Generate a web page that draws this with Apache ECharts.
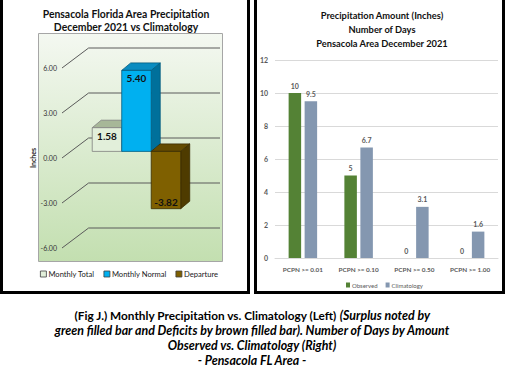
<!DOCTYPE html>
<html><head><meta charset="utf-8">
<script src="https://cdn.jsdelivr.net/npm/echarts@6/dist/echarts.min.js"></script>
<style>html,body{margin:0;padding:0;background:#fff}#c{width:506px;height:372px}</style>
</head><body><div id="c"></div>
<script>
// ---------- data ----------
const leftSeriesNames = ['Monthly Total', 'Monthly Normal', 'Departure'];
const leftValues = [1.58, 5.40, -3.82];
const leftTicks = [-6, -3, 0, 3, 6];
const rightCategories = ['PCPN >= 0.01', 'PCPN >= 0.10', 'PCPN >= 0.50', 'PCPN >= 1.00'];
const rightSeriesNames = ['Observed', 'Climatology'];
const observedDays = [10, 5, 0, 0];
const climatologyDays = [9.5, 6.7, 3.1, 1.6];
const leftTitle = ['Pensacola Florida Area Precipitation', 'December 2021 vs Climatology'];
const rightTitle = ['Precipitation Amount (Inches)', 'Number of Days', 'Pensacola Area December 2021'];

// ---------- style ----------
const FONT = 'Lato';
const leftFaces = [
  {front: '#e2efda', top: '#a7b798', side: '#b9c9aa', border: '#7f7f7f'},
  {front: '#00b0f0', top: '#0a8cc0', side: '#00709b', border: '#005a7d'},
  {front: '#7f6000', top: '#634b00', side: '#4e3b00', border: '#3a2c00'}
];
const rightColors = ['#548235', '#8497b0'];
const DEPTH_X = 26.6, DEPTH_Y = -20;
const BAR_FRONT = 0.33;
const BAR_DX = 9, BAR_DY = -7.5;
const BAR_W = 29.5;

function renderGridLine(params, api) {
  const v = api.value(1);
  const cs = params.coordSys;
  const y = api.coord([0, v])[1];
  const x0 = cs.x, x1 = cs.x + cs.width;
  return {
    type: 'polyline', silent: true,
    shape: {points: [[x0, y], [x0 + DEPTH_X, y + DEPTH_Y], [x1 + DEPTH_X, y + DEPTH_Y]]},
    style: {stroke: '#5a5a5a', lineWidth: 1, fill: null}
  };
}

function makeBarRender(k) {
  return function (params, api) {
    const v = api.value(1);
    const base = api.coord([0, 0]);
    const tip = api.coord([0, v]);
    const cx = base[0] + DEPTH_X * BAR_FRONT;
    const oy = DEPTH_Y * BAR_FRONT;
    const xl = cx + (k - 1.5) * BAR_W, xr = xl + BAR_W;
    const y0 = base[1] + oy, y1 = tip[1] + oy;
    const yt = Math.min(y0, y1), yb = Math.max(y0, y1);
    const c = leftFaces[k];
    return {
      type: 'group', children: [
        {type: 'polygon', shape: {points: [[xr, yt], [xr + BAR_DX, yt + BAR_DY], [xr + BAR_DX, yb + BAR_DY], [xr, yb]]},
          style: {fill: c.side, stroke: c.border, lineWidth: 0.8}},
        {type: 'polygon', shape: {points: [[xl, yt], [xl + BAR_DX, yt + BAR_DY], [xr + BAR_DX, yt + BAR_DY], [xr, yt]]},
          style: {fill: c.top, stroke: c.border, lineWidth: 0.8}},
        {type: 'rect', shape: {x: xl, y: yt, width: BAR_W, height: yb - yt},
          style: {fill: c.front, stroke: c.border, lineWidth: 0.8}},
        {type: 'text', style: {text: v.toFixed(2), x: (xl + xr) / 2, y: v >= 0 ? yt + 8 : yb - 7,
          align: 'center', verticalAlign: 'middle', font: 'bold 10px ' + FONT, fill: '#111'}}
      ]
    };
  };
}

const chart = echarts.init(document.getElementById('c'), null, {renderer: 'svg', width: 506, height: 372});

const leftBarSeries = leftSeriesNames.map((name, k) => ({
  type: 'custom', name: name, xAxisIndex: 0, yAxisIndex: 0, z: 5,
  itemStyle: {color: leftFaces[k].front, borderColor: leftFaces[k].border},
  encode: {x: 0, y: 1},
  data: [[0, leftValues[k]]],
  renderItem: makeBarRender(k)
}));

const option = {
  animation: false,
  textStyle: {fontFamily: FONT},
  grid: [
    {left: 62, top: 68, width: 131.4, height: 180},
    {left: 275, top: 60, width: 223, height: 198}
  ],
  xAxis: [
    {gridIndex: 0, type: 'category', data: ['Dec 2021'], show: false},
    {gridIndex: 1, type: 'category', data: rightCategories,
      axisLine: {lineStyle: {color: '#d9d9d9', width: 1}}, axisTick: {show: false},
      axisLabel: {interval: 0, fontSize: 6.4, color: '#595959', margin: 8, fontFamily: FONT, fontWeight: 'bold'}}
  ],
  yAxis: [
    {gridIndex: 0, type: 'value', min: -6, max: 6, interval: 3,
      axisLine: {show: false}, axisTick: {show: false}, splitLine: {show: false},
      axisLabel: {formatter: v => v.toFixed(2), fontSize: 7, color: '#333', margin: 5, fontFamily: FONT},
      name: 'Inches', nameLocation: 'middle', nameRotate: 90, nameGap: 24,
      nameTextStyle: {fontSize: 7, fontWeight: 'bold', color: '#222', fontFamily: FONT}},
    {gridIndex: 1, type: 'value', min: 0, max: 12, interval: 2,
      axisLine: {show: false}, axisTick: {show: false},
      splitLine: {lineStyle: {color: '#d9d9d9', width: 1}},
      axisLabel: {fontSize: 7, color: '#595959', margin: 7, fontFamily: FONT, fontWeight: 'bold'}}
  ],
  legend: [
    {left: 35, top: 265, itemWidth: 6, itemHeight: 6, itemGap: 9, icon: 'rect',
      textStyle: {fontSize: 7.6, color: '#222', fontFamily: FONT, padding: [0, 0, 0, -3]},
      data: leftSeriesNames.map((n, k) => ({name: n, itemStyle: {color: leftFaces[k].front, borderColor: '#404040', borderWidth: 0.8}}))},
    {left: 341, top: 277, itemWidth: 4, itemHeight: 5, itemGap: 8, icon: 'rect',
      textStyle: {fontSize: 6, color: '#595959', fontFamily: FONT, padding: [0, 0, 0, -3]},
      data: rightSeriesNames.map((n, k) => ({name: n, itemStyle: {color: rightColors[k]}}))}
  ],
  graphic: [
    {type: 'rect', z: 0, silent: true, shape: {x: 38.5, y: 33.5, width: 184, height: 228},
      style: {fill: new echarts.graphic.LinearGradient(0, 0, 0, 1, [
        {offset: 0, color: '#f4f8f1'}, {offset: 1, color: '#c3dfb0'}]), stroke: '#a6a6a6', lineWidth: 1}},
    {type: 'text', z: 10, style: {text: leftTitle.join('\n'), x: 126, y: 20.5, align: 'center', verticalAlign: 'middle',
      font: 'bold 10.4px ' + FONT, fill: '#111', lineHeight: 13.3}},
    {type: 'text', z: 10, style: {text: rightTitle.join('\n'), x: 382, y: 29, align: 'center', verticalAlign: 'middle',
      font: 'bold 9.3px ' + FONT, fill: '#111', lineHeight: 14}},
    {type: 'text', z: 10, style: {
      text: '{n|(Fig J.) Monthly Precipitation vs. Climatology (Left) }{i|(Surplus noted by}\n' +
        '{i|green filled bar and Deficits by brown filled bar). Number of Days by Amount}\n' +
        '{i|Observed vs. Climatology (Right)}\n{i|- Pensacola FL Area -}',
      x: 252, y: 338, align: 'center', verticalAlign: 'middle',
      rich: {
        n: {fontFamily: FONT, fontWeight: 'bold', fontSize: 11.8, lineHeight: 15, color: '#111'},
        i: {fontFamily: FONT, fontWeight: 'bold', fontStyle: 'italic', fontSize: 12.4, lineHeight: 15, color: '#111'}
      }}},
    {type: 'rect', z: 100, silent: true, shape: {x: 1.5, y: -10, width: 247, height: 302.5},
      style: {fill: null, stroke: '#000', lineWidth: 3}},
    {type: 'rect', z: 100, silent: true, shape: {x: 255.5, y: -10, width: 248, height: 302.5},
      style: {fill: null, stroke: '#000', lineWidth: 3}}
  ],
  series: [
    {type: 'custom', name: 'grid-lines', xAxisIndex: 0, yAxisIndex: 0, z: 3, silent: true,
      encode: {x: 0, y: 1}, data: leftTicks.map(v => [0, v]), renderItem: renderGridLine},
    ...leftBarSeries,
    {type: 'bar', name: 'Observed', xAxisIndex: 1, yAxisIndex: 1, data: observedDays,
      barWidth: 12.5, barGap: '28%', itemStyle: {color: rightColors[0]},
      label: {show: true, position: 'top', distance: 4, fontSize: 7, fontWeight: 'bold', color: '#595959', fontFamily: FONT}},
    {type: 'bar', name: 'Climatology', xAxisIndex: 1, yAxisIndex: 1, data: climatologyDays,
      barWidth: 12.5, barGap: '28%', itemStyle: {color: rightColors[1]},
      label: {show: true, position: 'top', distance: 4, fontSize: 7, fontWeight: 'bold', color: '#595959', fontFamily: FONT}}
  ]
};
chart.setOption(option);
</script>
</body></html>
